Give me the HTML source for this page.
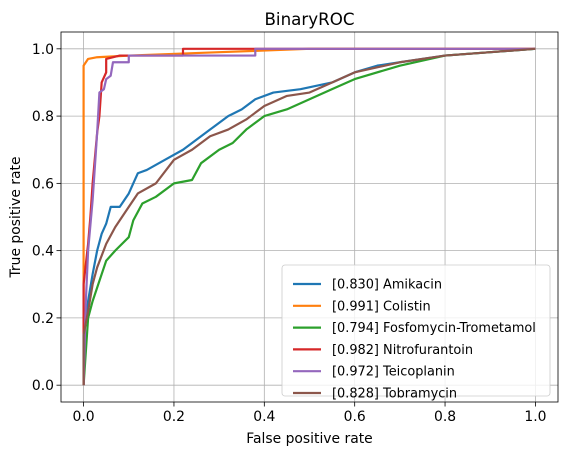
<!DOCTYPE html>
<html><head><meta charset="utf-8"><style>body{margin:0;background:#fff}svg{display:block;font-family:"DejaVu Sans","Liberation Sans",sans-serif}</style></head>
<body>
<svg id="chart" width="567" height="455"></svg>
<script>
const seriesNames=["[0.830] Amikacin","[0.991] Colistin","[0.794] Fosfomycin-Trometamol","[0.982] Nitrofurantoin","[0.972] Teicoplanin","[0.828] Tobramycin"];
const seriesColors=["#1f77b4","#ff7f0e","#2ca02c","#d62728","#9467bd","#8c564b"];
const amikacin=[[0,0],[0,0.15],[0.01,0.25],[0.02,0.33],[0.03,0.4],[0.04,0.45],[0.05,0.48],[0.06,0.53],[0.08,0.53],[0.1,0.57],[0.12,0.63],[0.14,0.64],[0.18,0.67],[0.22,0.7],[0.26,0.74],[0.28,0.76],[0.32,0.8],[0.35,0.82],[0.38,0.85],[0.42,0.87],[0.48,0.88],[0.55,0.9],[0.6,0.93],[0.65,0.95],[0.7,0.96],[0.8,0.98],[0.9,0.99],[1,1]];
const colistin=[[0,0],[0,0.95],[0.01,0.97],[0.03,0.975],[0.1,0.98],[0.3,0.99],[0.5,1],[1,1]];
const fosfomycin=[[0,0],[0.01,0.2],[0.02,0.25],[0.04,0.33],[0.05,0.37],[0.07,0.4],[0.1,0.44],[0.11,0.49],[0.13,0.54],[0.16,0.56],[0.2,0.6],[0.24,0.61],[0.26,0.66],[0.3,0.7],[0.33,0.72],[0.36,0.76],[0.4,0.8],[0.45,0.82],[0.5,0.85],[0.55,0.88],[0.6,0.91],[0.7,0.95],[0.8,0.98],[0.9,0.99],[1,1]];
const nitrofurantoin=[[0,0],[0,0.3],[0.01,0.42],[0.015,0.5],[0.02,0.6],[0.03,0.75],[0.035,0.8],[0.04,0.9],[0.05,0.93],[0.05,0.97],[0.08,0.98],[0.22,0.98],[0.22,1],[1,1]];
const teicoplanin=[[0,0],[0.005,0.25],[0.01,0.4],[0.02,0.55],[0.03,0.75],[0.035,0.87],[0.045,0.88],[0.05,0.91],[0.06,0.92],[0.065,0.96],[0.1,0.96],[0.1,0.98],[0.38,0.98],[0.38,1],[1,1]];
const tobramycin=[[0,0],[0,0.15],[0.01,0.22],[0.02,0.3],[0.03,0.35],[0.05,0.42],[0.07,0.47],[0.1,0.53],[0.12,0.57],[0.16,0.6],[0.2,0.67],[0.24,0.7],[0.28,0.74],[0.32,0.76],[0.36,0.79],[0.4,0.83],[0.45,0.86],[0.5,0.87],[0.55,0.9],[0.6,0.93],[0.7,0.96],[0.8,0.98],[0.9,0.99],[1,1]];
const xTicks=[0,0.2,0.4,0.6,0.8,1.0];
const yTicks=[0,0.2,0.4,0.6,0.8,1.0];
const allSeries=[amikacin,colistin,fosfomycin,nitrofurantoin,teicoplanin,tobramycin];

const L=61,T=32,R=558,B=402;
const FS=13.9;
const sx=v=>L+(v+0.05)/1.1*(R-L);
const sy=v=>B-(v+0.05)/1.1*(B-T);
const svg=document.getElementById('chart');
const NS='http://www.w3.org/2000/svg';
function mk(tag,attrs,parent){const e=document.createElementNS(NS,tag);for(const k in attrs)e.setAttribute(k,attrs[k]);(parent||svg).appendChild(e);return e;}

xTicks.forEach(t=>{
  const g=mk('line',{x1:sx(t),x2:sx(t),y1:T,y2:B,stroke:'#b0b0b0','stroke-width':0.8});
  
  
  mk('line',{x1:sx(t),x2:sx(t),y1:B,y2:B+4.5,stroke:'#000','stroke-width':0.8});
  const tx=mk('text',{x:sx(t),y:B+19,'text-anchor':'middle','font-size':FS});
  tx.textContent=t.toFixed(1);
  
  
});
yTicks.forEach(t=>{
  const g=mk('line',{x1:L,x2:R,y1:sy(t),y2:sy(t),stroke:'#b0b0b0','stroke-width':0.8});
  
  
  mk('line',{x1:L-4.5,x2:L,y1:sy(t),y2:sy(t),stroke:'#000','stroke-width':0.8});
  const tx=mk('text',{x:L-7,y:sy(t)+5,'text-anchor':'end','font-size':FS});
  tx.textContent=t.toFixed(1);
  
  
});

allSeries.forEach((s,i)=>{
  const p=mk('polyline',{points:s.map(d=>sx(d[0])+','+sy(d[1])).join(' '),fill:'none',stroke:seriesColors[i],'stroke-width':2.2,'stroke-linejoin':'round'});
  
  
});

const frame=mk('rect',{x:L,y:T,width:R-L,height:B-T,fill:'none',stroke:'#000','stroke-width':0.8});



const title=mk('text',{x:(L+R)/2,y:25,'text-anchor':'middle','font-size':16.7});
title.textContent='BinaryROC';


const xl=mk('text',{x:(L+R)/2,y:443,'text-anchor':'middle','font-size':FS});
xl.textContent='False positive rate';


const yl=mk('text',{x:0,y:0,'text-anchor':'middle','font-size':FS,transform:'translate(20,'+((T+B)/2)+') rotate(-90)'});
yl.textContent='True positive rate';



const lg=mk('rect',{x:282,y:265,width:268,height:131,rx:3,fill:'#fff','fill-opacity':0.8,stroke:'#cccccc','stroke-width':0.8});


seriesNames.forEach((n,i)=>{
  const y=284+i*21.8;
  const ln=mk('line',{x1:293,x2:321,y1:y,y2:y,stroke:seriesColors[i],'stroke-width':2.2});
  
  
  const t=mk('text',{x:332,y:y+4.5,'font-size':12.9});
  t.textContent=n;
  
  
});
</script>
</body></html>
